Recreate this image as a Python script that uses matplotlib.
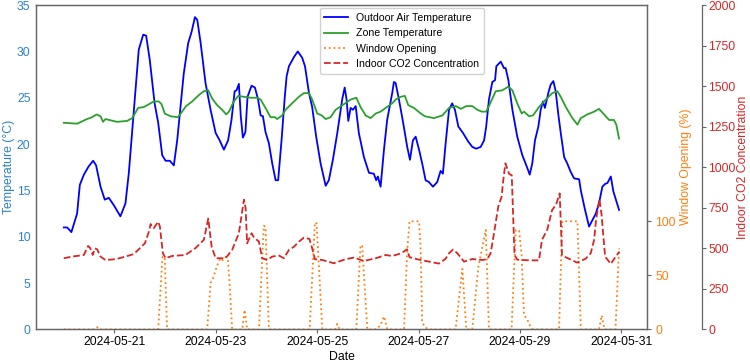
import matplotlib
matplotlib.use("Agg")
import matplotlib.pyplot as plt
import matplotlib.dates as mdates
import pandas as pd

plt.rcParams['font.family'] = ['Liberation Sans', 'DejaVu Sans']

start = pd.Timestamp('2024-05-20 00:00')

# hours since start
outdoor_h = [0, 1.6, 3.6, 6.3, 7.6, 9.5, 11.8, 13.9, 15.3, 17.4, 19.4, 21.3, 23.7, 26.8, 29.2, 30.8,
             33.2, 35.5, 37.6, 39, 40.7, 43, 44.7, 46.6, 48.2, 50.2, 52.1, 53.7, 56.8, 58.9, 60.5,
             62.1, 63.2, 64.8, 67.1, 69.5, 71.9, 73.8, 75.8, 77.8, 79.4, 80.9, 81.8, 82.9, 83.8,
             84.8, 86, 87, 88.9, 90.5, 92, 93.2, 94.3, 95.5, 97.1, 98.7, 100.3, 101.5, 103.1, 104.6,
             105.5, 106.6, 109, 110.8, 112.9, 114.2, 116.1, 117.6, 119.5, 121.6, 124, 125.5, 127.4,
             129.5, 131.8, 133, 133.9, 134.7, 135.8, 136.9, 138.2, 139.7, 142.1, 144.5, 146.8, 147.9,
             148.7, 150, 151.6, 153.1, 155.5, 156.3, 157.1, 158.7, 160.6, 162.6, 163.9, 165.3, 166.6,
             168.2, 169.7, 171.3, 172.9, 174.8, 176.8, 178.4, 179.5, 180.8, 182.4, 183.9, 185.2,
             186.8, 189, 191.4, 193.4, 195.3, 197.4, 199, 200, 201.3, 202.9, 204.2, 204.8, 206.9,
             208.4, 209.2, 210.5, 212.4, 214.7, 217.1, 219.5, 220.6, 221.8, 223.1, 224.7, 225.8,
             226.9, 227.8, 229.4, 230.5, 231.8, 232.9, 234.2, 235.3, 236.9, 238.4, 240, 241.6, 244,
             244.8, 246.8, 248.7, 250.3, 251.9, 253.4, 255, 256.3, 257.4, 259, 260.2, 262.9]
outdoor_t = [11.0, 11.0, 10.5, 12.5, 15.6, 16.7, 17.6, 18.2, 17.7, 15.4, 14.0, 14.2, 13.4, 12.2, 13.6, 16.9,
             23.7, 30.2, 31.8, 31.7, 29.1, 24.4, 22.3, 18.8, 18.2, 18.2, 17.7, 20.4, 27.6, 30.9, 32.1,
             33.7, 33.4, 30.9, 26.6, 23.7, 21.2, 20.4, 19.4, 20.4, 22.6, 25.7, 25.8, 26.5, 23.0,
             20.7, 21.3, 25.1, 26.3, 26.1, 24.8, 23.1, 23.0, 21.3, 20.1, 17.9, 16.1, 16.1, 20.4, 25.0,
             27.3, 28.4, 29.4, 30.0, 29.3, 28.4, 25.5, 24.0, 20.8, 17.9, 15.5, 16.1, 18.3,
             21.2, 24.8, 26.1, 24.8, 22.5, 23.9, 23.7, 24.1, 21.2, 18.6, 16.9, 16.8, 16.1,
             16.5, 15.4, 19.4, 22.6, 25.5, 26.7, 26.6, 24.8, 22.4, 19.7, 18.3, 20.4, 20.8,
             19.4, 17.9, 16.1, 15.9, 15.4, 15.9, 17.1, 16.8, 20.1, 23.7, 24.4, 23.7,
             21.9, 21.2, 20.3, 19.7, 19.5, 19.7, 20.4, 21.9, 24.8, 26.7, 26.9, 28.4, 28.9,
             28.2, 28.2, 26.9, 23.7, 20.8, 18.8, 17.4, 16.7, 17.9, 20.4, 21.9, 23.7,
             24.6, 23.9, 25.5, 26.4, 26.8, 25.7, 23.1, 21.2, 18.6, 17.9, 17.0, 16.3, 16.2,
             15.0, 12.9, 11.1, 11.8, 12.5, 13.6, 15.4, 15.7, 15.8, 16.5, 14.9, 12.9]

zone_h = [0, 6.3, 11, 13.4, 15.5, 17.4, 18.6, 19.7, 25.2, 30, 32.4, 35.2, 37.9, 40.3, 42.6, 45, 46.3,
          47.8, 50.5, 54.1, 56, 57.9, 60.8, 64, 66.3, 68.4, 70.3, 72.6, 75, 76.9, 78.2, 80.5, 82.6,
          85.3, 88.4, 91.6, 93.2, 95.5, 97.9, 100, 101, 103.4, 105, 108.1, 111.3, 113.7, 116.1,
          117.6, 120, 122.1, 124, 126.3, 128.7, 132.6, 135.8, 138.5, 140.5, 142.9, 145.3, 147.7,
          150, 152.4, 155.5, 157.1, 159.5, 161.5, 163.1, 165.8, 169, 171, 175.3, 179.3, 182.4,
          185.6, 188, 190.6, 193.4, 195.8, 197.9, 200, 201.3, 202.9, 204.5, 207.6, 210.5, 212.4,
          214.7, 216.8, 217.9, 220.3, 222.2, 225, 228.2, 231.3, 233.7, 235.3, 237.7, 240.8, 243.2,
          244.8, 247.9, 251.1, 253.4, 255.8, 258.2, 260.5, 261.6, 262.9]
zone_t = [22.3, 22.2, 22.7, 22.9, 23.2, 23.0, 22.4, 22.7, 22.4, 22.5, 22.8, 23.9, 24.0, 24.3, 24.6, 24.6, 24.3,
          23.3, 23.0, 22.9, 23.5, 24.1, 24.6, 25.3, 25.7, 25.8, 24.9, 24.2, 23.7, 23.2, 23.5, 24.6, 25.2,
          25.1, 25.0, 25.0, 24.8, 23.9, 22.9, 22.9, 22.7, 23.1, 23.7, 24.4, 25.1, 25.5, 25.5,
          24.8, 23.3, 23.1, 22.7, 22.9, 23.7, 24.3, 24.8, 25.0, 24.0, 23.1, 22.8, 23.3,
          23.5, 23.9, 24.4, 24.8, 25.1, 25.2, 24.2, 23.9, 23.3, 23.0, 22.8, 23.1, 23.9,
          24.1, 23.8, 24.1, 24.1, 23.7, 23.5, 23.5, 24.1, 24.9, 25.7, 25.8, 26.2, 25.8,
          24.4, 23.3, 23.5, 23.0, 23.1, 24.0, 24.8, 25.5, 25.7, 25.1, 24.0, 22.8, 22.1,
          22.8, 23.2, 23.5, 23.8, 23.2, 22.6, 22.6, 22.1, 20.6]

window_h = [0, 14.7, 15.8, 16.8, 44.7, 46.7, 47.8, 48.9, 67.9, 69.5, 70.6, 72.6, 74.2, 75.3, 76.6, 77.7,
            78.5, 79.7, 84.5, 85.6, 86.8, 92.4, 94.7, 95.5, 97.1, 116.4, 118.9, 119.7, 122.4, 128.4,
            129.5, 130.5, 138.5, 140.5, 141.3, 143.7, 147.3, 148.4, 149.7, 151.6, 153.2, 161.1, 162.6,
            163.7, 168.2, 169, 169.7, 171.3, 172.4, 185.5, 188.7, 190.6, 193.4, 196.3, 199.8, 201.3,
            212, 214, 215.6, 216.8, 217.9, 219.3, 221.1, 222.2, 234.5, 236, 243.2, 244.8, 253.4,
            254.7, 256, 261.2, 262.9]
window_pct = [0, 0, 2, 0, 0, 67, 67, 0, 0, 43, 47, 59, 66, 64, 67, 64,
              43, 0, 0, 18, 0, 0, 96, 95, 0, 0, 99, 98, 0, 0,
              5, 0, 0, 78, 77, 0, 0, 2, 3, 12, 0, 0, 73,
              100, 100, 73, 6, 2, 0, 0, 56, 0, 0, 58, 92, 0,
              0, 92, 91, 68, 13, 10, 2, 0, 0, 100, 100, 0, 0,
              13, 0, 0, 75]

co2_h = [0, 3.9, 9.5, 11.5, 12.6, 13.7, 14.7, 15.8, 17.4, 19.7, 24.5, 29.2, 33.2, 35.5, 38.4, 40.3,
         41.1, 42.6, 44.7, 45.5, 46.9, 48.2, 51.3, 57.6, 62.4, 66.3, 68.4, 70, 71.9, 76.6, 79.7,
         82.9, 85.3, 86.1, 86.8, 88.9, 90, 92.4, 93.9, 96.3, 98.7, 101.8, 104.2, 106.6, 109, 111.3,
         113.7, 116.3, 117.6, 118.9, 122.4, 127.9, 133.4, 137.4, 142.1, 147.7, 152.4, 155.5, 158.7,
         161, 162.5, 163.7, 168.2, 172.9, 177.6, 180.8, 182.4, 184.3, 186.3, 189.5, 193.4, 198.2,
         200.5, 202.1, 203.7, 205.7, 207.3, 208, 209.1, 210.8, 212.1, 213.4, 214.7, 220.3, 225,
         226.4, 228.9, 231.2, 233.1, 234.8, 235.9, 239.2, 243, 247.1, 249.5, 251.1, 252, 253.6,
         254.6, 256.3, 259, 261.3, 263.1]
co2_ppm = [439, 449, 459, 515, 500, 459, 500, 494, 449, 428, 433, 449, 465, 494, 531, 603,
           650, 624, 664, 634, 470, 439, 453, 459, 502, 552, 683, 510, 439, 439, 490,
           593, 800, 747, 531, 593, 568, 541, 439, 428, 449, 456, 439, 490, 510, 541,
           566, 558, 500, 433, 428, 408, 433, 443, 422, 439, 459, 453, 465,
           480, 494, 445, 430, 418, 406, 436, 470, 492, 470, 418, 434, 428,
           433, 470, 593, 757, 818, 911, 1024, 960, 950, 459, 430, 426, 426,
           552, 615, 736, 770, 839, 455, 436, 412, 436, 470, 552, 675, 802,
           710, 449, 404, 449, 480]


def to_time(hours):
    return start + pd.to_timedelta(hours, unit='h')


c_blue = '#2b83c6'
c_orange = '#ff7f0e'
c_red = '#d62728'
c_spine = '#666666'
fs = 8.8

fig, ax1 = plt.subplots(figsize=(7.5, 3.62), dpi=100)
fig.subplots_adjust(left=0.048, right=0.863, bottom=0.09, top=0.986)

l1, = ax1.plot(to_time(outdoor_h), outdoor_t, color='blue', lw=1.3, label='Outdoor Air Temperature')
l2, = ax1.plot(to_time(zone_h), zone_t, color='tab:green', lw=1.3, label='Zone Temperature')
ax1.set_ylim(0, 35)
ax1.set_xlabel('Date', fontsize=fs, labelpad=2)
ax1.set_ylabel('Temperature (°C)', color=c_blue, fontsize=fs, labelpad=1)
ax1.tick_params(axis='y', colors=c_blue, labelsize=fs, length=0, pad=4)
ax1.tick_params(axis='x', labelsize=fs, length=3, width=0.8, color=c_spine, pad=2)
ax1.xaxis.set_major_locator(mdates.DayLocator(bymonthday=range(1, 32, 2)))
ax1.xaxis.set_major_formatter(mdates.DateFormatter('%Y-%m-%d'))

ax2 = ax1.twinx()
l3, = ax2.plot(to_time(window_h), window_pct, color=c_orange, ls=':', lw=1.3, label='Window Opening')
ax2.set_ylim(0, 300)
ax2.set_yticks([0, 50, 100])
ax2.set_ylabel('Window Opening (%)', color=c_orange, fontsize=fs, labelpad=3)
ax2.tick_params(axis='y', colors=c_orange, labelsize=fs, length=3, width=0.8, pad=3)
ax2.tick_params(axis='y', color=c_spine)

ax3 = ax1.twinx()
ax3.spines['right'].set_position(('axes', 1.089))
l4, = ax3.plot(to_time(co2_h), co2_ppm, color=c_red, ls='--', lw=1.3, label='Indoor CO2 Concentration')
ax3.set_ylim(0, 2000)
ax3.set_yticks(range(0, 2001, 250))
ax3.set_ylabel('Indoor CO2 Concentration', color=c_red, fontsize=fs, labelpad=1)
ax3.tick_params(axis='y', colors=c_red, labelsize=fs, length=3, width=0.8, pad=2)
ax3.tick_params(axis='y', color=c_spine)

for ax in (ax1, ax2, ax3):
    for sp in ax.spines.values():
        sp.set_color(c_spine)
        sp.set_linewidth(0.9)
ax3.spines['top'].set_visible(False)
ax3.spines['left'].set_visible(False)
ax3.spines['bottom'].set_visible(False)

ax3.legend(handles=[l1, l2, l3, l4], loc='upper left', bbox_to_anchor=(0.464, 0.99),
           borderaxespad=0, fontsize=7.6, framealpha=0.9, edgecolor='#cccccc',
           handlelength=2.2, labelspacing=0.5, borderpad=0.45)

fig.savefig('out.png', dpi=100)
